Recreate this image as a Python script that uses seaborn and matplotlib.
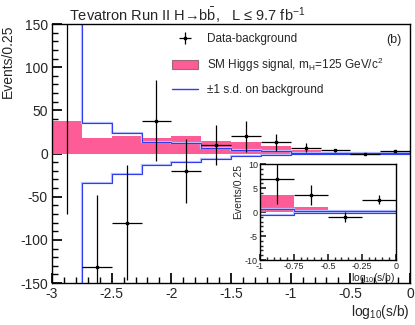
import numpy as np
import pandas as pd
import matplotlib
matplotlib.use("Agg")
import matplotlib.pyplot as plt
from matplotlib.patches import Patch
import seaborn as sns

# bin edges in log10(s/b), width 0.25
edges = np.arange(-3.0, 0.001, 0.25)
centers = edges[:-1] + 0.125

# data minus background, with errors
data_vals = [190, -131, -80, 38, -20, 10, 20, 13, 7.0, 3.6, -1.0, 2.6]
data_errs = [260, 83, 67, 47, 37, 23, 18, 10, 5.3, 2.1, 1.1, 0.9]

# SM Higgs signal expectation (mH = 125)
signal = [38, 17.5, 20, 17.5, 20, 15, 13, 9, 3.6, 1.0, 0.5, 0.4]

# +-1 s.d. on background
bkg_up = [300, 35, 24, 13, 12, 7, 4.5, 2.5, 0.7, 0.3, 0.2, 0.2]
bkg_dn = [-300, -34.5, -24, -13.5, -10, -6, -3, -1.5, -0.6, -0.25, -0.2, -0.2]

pink = "#fe5c96"
blue = "#2f3cf0"

sns.set_theme(style="ticks")
plt.rcParams["font.family"] = ["Liberation Sans", "DejaVu Sans"]
plt.rcParams["mathtext.fontset"] = "custom"
plt.rcParams["mathtext.rm"] = "Liberation Sans"
plt.rcParams["mathtext.it"] = "Liberation Sans"

sig_df = pd.DataFrame({"x": centers, "w": signal})


def draw(ax, lw_data=0.9, ms=2.0):
    sns.histplot(data=sig_df, x="x", weights="w", binwidth=0.25, binrange=(-3, 0),
                 element="step", fill=True, color=pink, alpha=1.0, linewidth=0,
                 ax=ax)
    # pale shadow under the band edges, as in the original
    ax.stairs(bkg_up, edges, color="#b8c2ff", lw=1.6, baseline=None)
    ax.stairs(bkg_dn, edges, color="#b8c2ff", lw=1.6, baseline=None)
    ax.stairs(bkg_up, edges, color=blue, lw=0.8, baseline=None)
    ax.stairs(bkg_dn, edges, color=blue, lw=0.8, baseline=None)
    eb = ax.errorbar(centers, data_vals, yerr=data_errs, xerr=0.125, fmt="s",
                     color="black", ms=ms, lw=lw_data, capsize=0)
    return eb


fig = plt.figure(figsize=(4.15, 3.25), dpi=100)
ax = fig.add_axes([0.1253, 0.129, 0.8627, 0.797])
eb = draw(ax)
ax.set_xlim(-3, 0)
ax.set_ylim(-150, 150)
ax.set_xticks([-3, -2.5, -2, -1.5, -1, -0.5, 0])
ax.set_xticklabels(["-3", "-2.5", "-2", "-1.5", "-1", "-0.5", "0"])
ax.set_yticks([-150, -100, -50, 0, 50, 100, 150])
ax.set_yticklabels(["-150", "-100", "-50", "0", "50", "100", "150"])
ax.xaxis.set_minor_locator(matplotlib.ticker.MultipleLocator(0.1))
ax.yaxis.set_minor_locator(matplotlib.ticker.MultipleLocator(10))
ax.tick_params(which="both", direction="in", labelsize=10, color="black")
ax.tick_params(which="major", length=7, pad=3)
ax.tick_params(which="minor", length=4)
for s in ax.spines.values():
    s.set_linewidth(1.0)
    s.set_color("black")
ax.set_ylabel("Events/0.25", fontsize=10, loc="top")
ax.set_xlabel("log$_{10}$(s/b)", fontsize=10, loc="right", labelpad=1)

handles = [eb, Patch(facecolor=pink, edgecolor="#9a6a7a", lw=0.8),
           plt.Line2D([], [], color=blue, lw=1.0)]
labels = ["Data-background", "SM Higgs signal, m$_H$=125 GeV/c$^2$",
          "\u00b11 s.d. on background"]
ax.legend(handles, labels, loc="upper left", bbox_to_anchor=(0.305, 1.005),
          frameon=False, fontsize=8.5, labelspacing=0.85, handlelength=2.2,
          handletextpad=0.8)
ax.text(0.975, 0.96, "(b)", transform=ax.transAxes, ha="right", va="top",
        fontsize=9)
fig.text(0.45, 0.955, "Tevatron Run II H\u2192b$\\bar{\\rm b}$,   L \u2264 9.7 fb$^{-1}$",
         ha="center", va="center", fontsize=10.5)

# inset zoom on the high s/b region
ins = fig.add_axes([0.6265, 0.2, 0.327, 0.295])
draw(ins)
ins.set_xlim(-1, 0)
ins.set_ylim(-10, 10)
ins.set_xticks([-1, -0.75, -0.5, -0.25, 0])
ins.set_xticklabels(["-1", "-0.75", "-0.5", "-0.25", "0"])
ins.set_yticks([-10, -5, 0, 5, 10])
ins.set_yticklabels(["-10", "-5", "0", "5", "10"])
ins.xaxis.set_minor_locator(matplotlib.ticker.MultipleLocator(0.05))
ins.yaxis.set_minor_locator(matplotlib.ticker.MultipleLocator(1))
ins.tick_params(which="both", direction="in", labelsize=6.5, pad=1.5)
ins.tick_params(which="major", length=4)
ins.tick_params(which="minor", length=2)
for s in ins.spines.values():
    s.set_linewidth(1.0)
    s.set_color("black")
ins.set_ylabel("Events/0.25", fontsize=7.5, loc="top", labelpad=1)
ins.set_xlabel("log$_{10}$(s/b)", fontsize=7.5, loc="right", labelpad=0)

fig.savefig("out.png", dpi=100)
